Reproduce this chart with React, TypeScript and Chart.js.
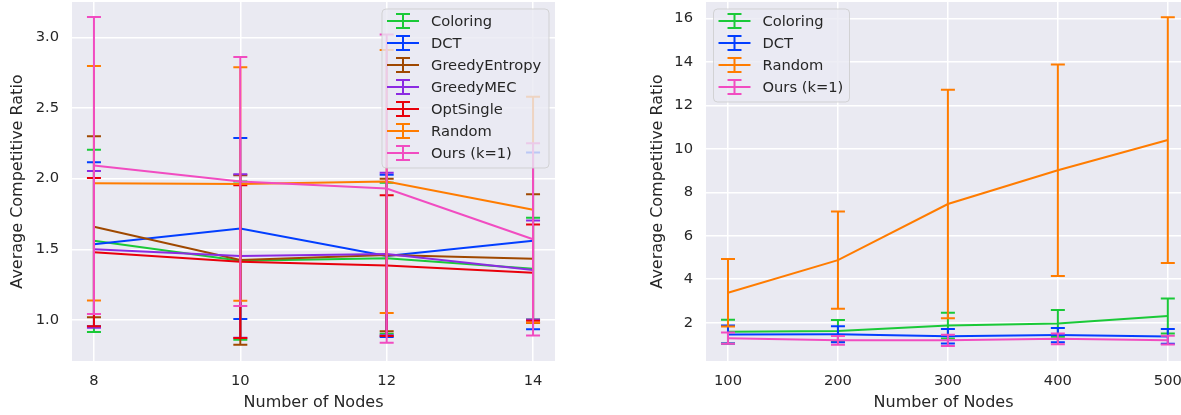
import React, { useEffect, useRef } from "react";
import { Chart, registerables } from "chart.js";

Chart.register(...registerables);

// ---------- Left chart data ----------
const leftNodes = [8, 10, 12, 14];
const leftXTicks = [8, 10, 12, 14];
const leftYTicks = [1.0, 1.5, 2.0, 2.5, 3.0];
const leftLabels = ["Coloring", "DCT", "GreedyEntropy", "GreedyMEC", "OptSingle", "Random", "Ours (k=1)"];
const leftColoringMean = [1.56, 1.42, 1.437, 1.363];
const leftColoringStd = [0.645, 0.56, 0.535, 0.36];
const leftDctMean = [1.536, 1.647, 1.453, 1.56];
const leftDctStd = [0.58, 0.64, 0.574, 0.625];
const leftGreedyEntropyMean = [1.66, 1.425, 1.46, 1.434];
const leftGreedyEntropyStd = [0.64, 0.6, 0.54, 0.456];
const leftGreedyMecMean = [1.5, 1.453, 1.467, 1.354];
const leftGreedyMecStd = [0.555, 0.578, 0.575, 0.35];
const leftOptSingleMean = [1.48, 1.413, 1.385, 1.335];
const leftOptSingleStd = [0.525, 0.54, 0.498, 0.34];
const leftRandomMean = [1.968, 1.963, 1.98, 1.78];
const leftRandomStd = [0.83, 0.826, 0.93, 0.8];
const leftOursMean = [2.093, 1.98, 1.93, 1.571];
const leftOursStd = [1.05, 0.88, 1.09, 0.68];

// ---------- Right chart data ----------
const rightNodes = [100, 200, 300, 400, 500];
const rightXTicks = [100, 200, 300, 400, 500];
const rightYTicks = [2, 4, 6, 8, 10, 12, 14, 16];
const rightLabels = ["Coloring", "DCT", "Random", "Ours (k=1)"];
const rightColoringMean = [1.59, 1.62, 1.87, 1.97, 2.31];
const rightColoringStd = [0.55, 0.5, 0.59, 0.61, 0.81];
const rightDctMean = [1.46, 1.47, 1.38, 1.43, 1.37];
const rightDctStd = [0.41, 0.37, 0.33, 0.33, 0.34];
const rightRandomMean = [3.38, 4.88, 7.46, 9.01, 10.4];
const rightRandomStd = [1.55, 2.24, 5.25, 4.86, 5.65];
const rightOursMean = [1.29, 1.19, 1.19, 1.26, 1.2];
const rightOursStd = [0.26, 0.2, 0.26, 0.25, 0.2];

// ---------- Styles ----------
const C_GREEN = "#1ac938";
const C_BLUE = "#023eff";
const C_BROWN = "#9f4800";
const C_PURPLE = "#8b2be2";
const C_RED = "#e8000b";
const C_ORANGE = "#ff7c00";
const C_PINK = "#f14cc1";
const TEXT = "#262626";
const BG = "#eaeaf2";
const FONT = "'DejaVu Sans', sans-serif";
const SMALL = 14.7;

const bgPlugin = {
  id: "bgArea",
  beforeDraw(chart: any) {
    const { ctx, chartArea } = chart;
    ctx.save();
    ctx.fillStyle = BG;
    ctx.fillRect(chartArea.left, chartArea.top, chartArea.right - chartArea.left, chartArea.bottom - chartArea.top);
    ctx.restore();
  },
};

const errPlugin = {
  id: "errbars",
  afterDatasetDraw(chart: any, args: any) {
    const ds = chart.data.datasets[args.index];
    const errs: number[] = ds.errors;
    if (!errs) return;
    const xs = chart.scales.x;
    const ys = chart.scales.y;
    const ctx = chart.ctx;
    const ca = chart.chartArea;
    const cap = 7;
    ctx.save();
    ctx.beginPath();
    ctx.rect(ca.left, ca.top, ca.right - ca.left, ca.bottom - ca.top);
    ctx.clip();
    ctx.strokeStyle = ds.borderColor;
    ctx.lineWidth = 2;
    ctx.lineCap = "butt";
    ds.data.forEach((p: any, i: number) => {
      const x = xs.getPixelForValue(p.x);
      const yt = ys.getPixelForValue(p.y + errs[i]);
      const yb = ys.getPixelForValue(p.y - errs[i]);
      ctx.beginPath();
      ctx.moveTo(x, yt);
      ctx.lineTo(x, yb);
      ctx.moveTo(x - cap, yt);
      ctx.lineTo(x + cap, yt);
      ctx.moveTo(x - cap, yb);
      ctx.lineTo(x + cap, yb);
      ctx.stroke();
    });
    ctx.restore();
  },
};

const legendPlugin = {
  id: "boxLegend",
  afterDraw(chart: any) {
    const opts = chart.options.plugins.boxLegend;
    if (!opts) return;
    const { ctx, chartArea } = chart;
    const labels: string[] = opts.labels;
    const colors: string[] = opts.colors;
    const w = opts.width;
    const rowH = 22;
    const h = labels.length * rowH + 5;
    const x0 = opts.anchor === "right" ? chartArea.right - opts.dx - w : chartArea.left + opts.dx;
    const y0 = chartArea.top + opts.dy;
    ctx.save();
    ctx.beginPath();
    const r = 4;
    ctx.moveTo(x0 + r, y0);
    ctx.lineTo(x0 + w - r, y0);
    ctx.quadraticCurveTo(x0 + w, y0, x0 + w, y0 + r);
    ctx.lineTo(x0 + w, y0 + h - r);
    ctx.quadraticCurveTo(x0 + w, y0 + h, x0 + w - r, y0 + h);
    ctx.lineTo(x0 + r, y0 + h);
    ctx.quadraticCurveTo(x0, y0 + h, x0, y0 + h - r);
    ctx.lineTo(x0, y0 + r);
    ctx.quadraticCurveTo(x0, y0, x0 + r, y0);
    ctx.closePath();
    ctx.fillStyle = "rgba(234,234,242,0.8)";
    ctx.fill();
    ctx.strokeStyle = "rgba(204,204,204,0.8)";
    ctx.lineWidth = 1;
    ctx.stroke();
    ctx.font = SMALL + "px " + FONT;
    ctx.textBaseline = "middle";
    ctx.textAlign = "left";
    labels.forEach((lab, i) => {
      const cy = y0 + 12 + i * rowH;
      const hx = x0 + 5;
      const hw = 32;
      const cx = hx + hw / 2;
      ctx.strokeStyle = colors[i];
      ctx.lineWidth = 2;
      ctx.beginPath();
      ctx.moveTo(hx, cy);
      ctx.lineTo(hx + hw, cy);
      ctx.moveTo(cx, cy - 7);
      ctx.lineTo(cx, cy + 7);
      ctx.moveTo(cx - 7, cy - 7);
      ctx.lineTo(cx + 7, cy - 7);
      ctx.moveTo(cx - 7, cy + 7);
      ctx.lineTo(cx + 7, cy + 7);
      ctx.stroke();
      ctx.fillStyle = TEXT;
      ctx.fillText(lab, hx + hw + 12, cy + 1);
    });
    ctx.restore();
  },
};

function makeDataset(label: string, color: string, xs: number[], mean: number[], std: number[], idx: number) {
  return {
    label,
    data: xs.map((x, i) => ({ x, y: mean[i] })),
    errors: std,
    borderColor: color,
    backgroundColor: color,
    borderWidth: 2,
    pointRadius: 0,
    tension: 0,
    order: -idx,
    clip: false,
  };
}

function zeroPad(s: any) {
  s.paddingLeft = 0;
  s.paddingRight = 0;
  s.paddingTop = 0;
  s.paddingBottom = 0;
}

function makeConfig(p: any) {
  return {
    type: "line",
    data: { datasets: p.datasets },
    plugins: [bgPlugin, errPlugin, legendPlugin],
    options: {
      animation: false,
      responsive: false,
      events: [],
      layout: { padding: { top: 2, right: p.padRight, left: 0, bottom: 0 } },
      plugins: {
        legend: { display: false },
        tooltip: { enabled: false },
        boxLegend: p.legend,
      },
      scales: {
        x: {
          type: "linear",
          min: p.xMin,
          max: p.xMax,
          afterBuildTicks: (s: any) => {
            s.ticks = p.xTicks.map((v: number) => ({ value: v }));
          },
          afterFit: (s: any) => {
            s.height = 54;
            zeroPad(s);
          },
          grid: { color: "#ffffff", lineWidth: 1.5, drawTicks: false },
          border: { display: false },
          ticks: { color: TEXT, font: { family: FONT, size: SMALL }, padding: 11.5, maxRotation: 0, callback: (v: any) => String(v) },
          title: { display: true, text: "Number of Nodes", color: TEXT, font: { family: FONT, size: 16 }, padding: { top: 0, bottom: 2.4 } },
        },
        y: {
          type: "linear",
          min: p.yMin,
          max: p.yMax,
          afterBuildTicks: (s: any) => {
            s.ticks = p.yTicks.map((v: number) => ({ value: v }));
          },
          afterFit: (s: any) => {
            s.width = p.yWidth;
            zeroPad(s);
          },
          grid: { color: "#ffffff", lineWidth: 1.5, drawTicks: false },
          border: { display: false },
          ticks: { color: TEXT, font: { family: FONT, size: SMALL }, padding: 13, callback: p.yFmt },
          title: { display: true, text: "Average Competitive Ratio", color: TEXT, font: { family: FONT, size: 16 }, padding: { top: 8.7, bottom: 0 } },
        },
      },
    },
  };
}

function ChartCanvas({ config, left, width }: { config: any; left: number; width: number }) {
  const ref = useRef<HTMLCanvasElement | null>(null);
  useEffect(() => {
    if (!ref.current) return;
    const chart = new Chart(ref.current, config);
    return () => chart.destroy();
  }, []);
  return (
    <canvas
      ref={ref}
      width={width}
      height={415}
      style={{ position: "absolute", left, top: 0, width, height: 415 }}
    />
  );
}

export default function App() {
  const leftDatasets = [
    makeDataset(leftLabels[0], C_GREEN, leftNodes, leftColoringMean, leftColoringStd, 0),
    makeDataset(leftLabels[1], C_BLUE, leftNodes, leftDctMean, leftDctStd, 1),
    makeDataset(leftLabels[2], C_BROWN, leftNodes, leftGreedyEntropyMean, leftGreedyEntropyStd, 2),
    makeDataset(leftLabels[3], C_PURPLE, leftNodes, leftGreedyMecMean, leftGreedyMecStd, 3),
    makeDataset(leftLabels[4], C_RED, leftNodes, leftOptSingleMean, leftOptSingleStd, 4),
    makeDataset(leftLabels[5], C_ORANGE, leftNodes, leftRandomMean, leftRandomStd, 5),
    makeDataset(leftLabels[6], C_PINK, leftNodes, leftOursMean, leftOursStd, 6),
  ];
  const rightDatasets = [
    makeDataset(rightLabels[0], C_GREEN, rightNodes, rightColoringMean, rightColoringStd, 0),
    makeDataset(rightLabels[1], C_BLUE, rightNodes, rightDctMean, rightDctStd, 1),
    makeDataset(rightLabels[2], C_ORANGE, rightNodes, rightRandomMean, rightRandomStd, 2),
    makeDataset(rightLabels[3], C_PINK, rightNodes, rightOursMean, rightOursStd, 3),
  ];
  const leftConfig = makeConfig({
    datasets: leftDatasets,
    xMin: 7.7,
    xMax: 14.3,
    xTicks: leftXTicks,
    yMin: 0.71,
    yMax: 3.25,
    yTicks: leftYTicks,
    yWidth: 72,
    padRight: 1,
    yFmt: (v: any) => Number(v).toFixed(1),
    legend: {
      labels: leftLabels,
      colors: [C_GREEN, C_BLUE, C_BROWN, C_PURPLE, C_RED, C_ORANGE, C_PINK],
      width: 167,
      anchor: "right",
      dx: 6,
      dy: 7,
    },
  });
  const rightConfig = makeConfig({
    datasets: rightDatasets,
    xMin: 80,
    xMax: 512,
    xTicks: rightXTicks,
    yMin: 0.24,
    yMax: 16.75,
    yTicks: rightYTicks,
    yWidth: 66,
    padRight: 0,
    yFmt: (v: any) => String(v),
    legend: {
      labels: rightLabels,
      colors: [C_GREEN, C_BLUE, C_ORANGE, C_PINK],
      width: 136,
      anchor: "left",
      dx: 7.5,
      dy: 7,
    },
  });
  return (
    <div style={{ position: "absolute", left: 0, top: 0, width: 1181, height: 415, background: "#ffffff", overflow: "hidden" }}>
      <ChartCanvas config={leftConfig} left={0} width={556} />
      <ChartCanvas config={rightConfig} left={640} width={541} />
    </div>
  );
}
